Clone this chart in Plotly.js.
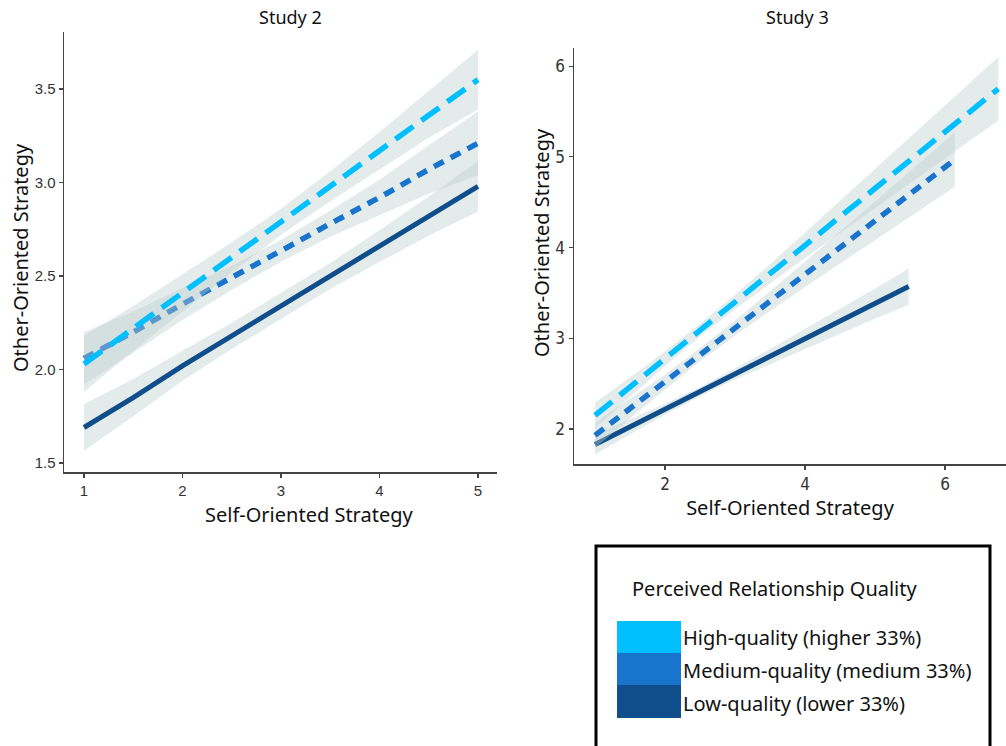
<!DOCTYPE html>
<html>
<head>
<meta charset="utf-8">
<script src="https://cdn.plot.ly/plotly-3.0.1.min.js"></script>
<style>
  html, body { margin: 0; padding: 0; background: #ffffff; }
  #chart { width: 1006px; height: 746px; }
</style>
</head>
<body>
<div id="chart"></div>
<script>
// ---------------- Data: Study 2 ----------------
const s2X = [1, 1.5, 2, 2.5, 3, 3.5, 4, 4.5, 5];
const s2HighMean = [2.03, 2.22, 2.41, 2.60, 2.79, 2.98, 3.17, 3.36, 3.55];
const s2HighUpper = [2.18, 2.34, 2.51, 2.68, 2.86, 3.06, 3.27, 3.49, 3.71];
const s2HighLower = [1.88, 2.10, 2.31, 2.52, 2.72, 2.90, 3.07, 3.24, 3.39];
const s2MedMean = [2.06, 2.20, 2.35, 2.49, 2.635, 2.78, 2.92, 3.07, 3.21];
const s2MedUpper = [2.20, 2.31, 2.435, 2.555, 2.693, 2.85, 3.015, 3.20, 3.38];
const s2MedLower = [1.92, 2.09, 2.265, 2.425, 2.577, 2.71, 2.825, 2.94, 3.04];
const s2LowMean = [1.69, 1.85, 2.02, 2.18, 2.34, 2.50, 2.66, 2.82, 2.98];
const s2LowUpper = [1.815, 1.95, 2.10, 2.25, 2.41, 2.57, 2.745, 2.925, 3.115];
const s2LowLower = [1.565, 1.75, 1.94, 2.11, 2.27, 2.43, 2.575, 2.715, 2.845];

// ---------------- Data: Study 3 ----------------
const s3HighX = [1, 1.5, 2, 2.5, 3, 3.5, 4, 4.5, 5, 5.5, 6, 6.5, 6.76];
const s3HighMean = [2.15, 2.46, 2.775, 3.09, 3.40, 3.71, 4.025, 4.34, 4.65, 4.96, 5.275, 5.59, 5.75];
const s3HighUpper = [2.29, 2.567, 2.856, 3.161, 3.481, 3.817, 4.165, 4.516, 4.864, 5.212, 5.566, 5.92, 6.10];
const s3HighLower = [2.01, 2.353, 2.694, 3.019, 3.319, 3.603, 3.885, 4.164, 4.436, 4.708, 4.984, 5.26, 5.40];
const s3MedX = [1, 1.5, 2, 2.5, 3, 3.5, 4, 4.5, 5, 5.5, 6, 6.14];
const s3MedMean = [1.93, 2.226, 2.52, 2.82, 3.113, 3.41, 3.704, 4.0, 4.296, 4.59, 4.887, 4.97];
const s3MedUpper = [2.07, 2.334, 2.602, 2.892, 3.195, 3.518, 3.844, 4.175, 4.508, 4.84, 5.174, 5.27];
const s3MedLower = [1.79, 2.118, 2.438, 2.748, 3.031, 3.302, 3.564, 3.825, 4.084, 4.34, 4.60, 4.67];
const s3LowX = [1, 1.5, 2, 2.5, 3, 3.5, 4, 4.5, 5, 5.48];
const s3LowMean = [1.83, 2.024, 2.218, 2.412, 2.606, 2.80, 2.994, 3.188, 3.382, 3.57];
const s3LowUpper = [1.94, 2.107, 2.279, 2.463, 2.667, 2.883, 3.104, 3.327, 3.55, 3.77];
const s3LowLower = [1.72, 1.941, 2.157, 2.361, 2.545, 2.717, 2.884, 3.049, 3.214, 3.37];

// ---------------- Labels ----------------
const panelTitles = ["Study 2", "Study 3"];
const xTitle = "Self-Oriented Strategy";
const yTitle = "Other-Oriented Strategy";
const legendTitle = "Perceived Relationship Quality";
const groupLabels = ["High-quality (higher 33%)", "Medium-quality (medium 33%)", "Low-quality (lower 33%)"];
const s2XTicks = [1, 2, 3, 4, 5];
const s2YTicks = [1.5, 2.0, 2.5, 3.0, 3.5];
const s2YTickText = ["1.5", "2.0", "2.5", "3.0", "3.5"];
const s3XTicks = [2, 4, 6];
const s3YTicks = [2, 3, 4, 5, 6];

// ---------------- Styles ----------------
const colHigh = "#00BFFF";
const colMed = "#1874CD";
const colLow = "#104E8B";
const bandFill = "rgba(188,205,205,0.4)";
const axisCol = "#444444";
const textFam = "'Noto Sans', 'Open Sans', sans-serif";

function band(x, lo, hi, xa, ya) {
  return {
    x: x.concat(x.slice().reverse()),
    y: hi.concat(lo.slice().reverse()),
    xaxis: xa, yaxis: ya,
    type: "scatter", mode: "lines",
    fill: "toself", fillcolor: bandFill,
    line: { width: 0, color: "rgba(0,0,0,0)" },
    hoverinfo: "skip", showlegend: false
  };
}
function line(x, y, color, dash, w, xa, ya) {
  return {
    x: x, y: y, xaxis: xa, yaxis: ya,
    type: "scatter", mode: "lines",
    line: { color: color, width: w, dash: dash },
    showlegend: false
  };
}

const dashHigh = "22px,10px";
const dashMed = "11px,8px";

const traces = [
  band(s2X, s2LowLower, s2LowUpper, "x", "y"),
  line(s2X, s2LowMean, colLow, "solid", 5, "x", "y"),
  band(s2X, s2MedLower, s2MedUpper, "x", "y"),
  line(s2X, s2MedMean, colMed, dashMed, 5.5, "x", "y"),
  band(s2X, s2HighLower, s2HighUpper, "x", "y"),
  line(s2X, s2HighMean, colHigh, dashHigh, 5.5, "x", "y"),

  band(s3LowX, s3LowLower, s3LowUpper, "x2", "y2"),
  line(s3LowX, s3LowMean, colLow, "solid", 5, "x2", "y2"),
  band(s3MedX, s3MedLower, s3MedUpper, "x2", "y2"),
  line(s3MedX, s3MedMean, colMed, dashMed, 5.5, "x2", "y2"),
  band(s3HighX, s3HighLower, s3HighUpper, "x2", "y2"),
  line(s3HighX, s3HighMean, colHigh, dashHigh, 5.5, "x2", "y2")
];

const W = 1006, H = 746;
const px = v => v / W;
const py = v => 1 - v / H;

const titleFont = { family: textFam, size: 20, color: "#111111" };
const tickFontL = { family: "'Liberation Sans', Arial, sans-serif", size: 15, color: "#333333" };
const tickFontR = { family: "'Liberation Sans Narrow', 'DejaVu Sans Condensed', sans-serif", size: 17, color: "#333333" };

const axisCommon = {
  showgrid: false, zeroline: false, showline: true,
  linecolor: axisCol, linewidth: 1.5,
  ticks: "outside", ticklen: 4, tickwidth: 1.2, tickcolor: axisCol,
  tickmode: "array", automargin: false, fixedrange: true
};

function ann(text, x, y, font, opts) {
  return Object.assign({ text: text, xref: "paper", yref: "paper", x: px(x), y: py(y),
    xanchor: "center", yanchor: "middle", showarrow: false, font: font }, opts || {});
}

const legendFont = { family: textFam, size: 20, color: "#111111" };

const layout = {
  width: W, height: H,
  margin: { l: 0, r: 0, t: 0, b: 0 },
  paper_bgcolor: "#ffffff", plot_bgcolor: "#ffffff",
  showlegend: false,
  xaxis: Object.assign({}, axisCommon, {
    domain: [px(64), px(497)], range: [0.797, 5.193],
    tickvals: s2XTicks, ticktext: s2XTicks.map(String), tickfont: tickFontL,
    anchor: "y"
  }),
  yaxis: Object.assign({}, axisCommon, {
    domain: [py(472), py(32)], range: [1.452, 3.805],
    tickvals: s2YTicks, ticktext: s2YTickText, tickfont: tickFontL,
    anchor: "x"
  }),
  xaxis2: Object.assign({}, axisCommon, {
    domain: [px(574), 1], range: [0.7, 6.87],
    tickvals: s3XTicks, ticktext: s3XTicks.map(String), tickfont: tickFontR,
    anchor: "y2",
    title: { text: xTitle, font: titleFont, standoff: 3 }
  }),
  yaxis2: Object.assign({}, axisCommon, {
    domain: [py(464), py(48)], range: [1.614, 6.2],
    tickvals: s3YTicks, ticktext: s3YTicks.map(String), tickfont: tickFontR,
    anchor: "x2"
  }),
  annotations: [
    ann(panelTitles[0], 290, 17, { family: textFam, size: 18, color: "#111111" }),
    ann(panelTitles[1], 797, 17, { family: textFam, size: 18, color: "#111111" }),
    // axis titles placed where the original has them
    ann(xTitle, 309, 514, titleFont),
    ann(yTitle, 20, 258, titleFont, { textangle: -90 }),
    ann(yTitle, 541, 243, titleFont, { textangle: -90 }),
    // legend
    ann(legendTitle, 630, 588, legendFont, { xanchor: "left" }),
    ann(groupLabels[0], 681, 637, legendFont, { xanchor: "left" }),
    ann(groupLabels[1], 681, 670, legendFont, { xanchor: "left" }),
    ann(groupLabels[2], 681, 703, legendFont, { xanchor: "left" })
  ],
  shapes: [
    { type: "rect", xref: "paper", yref: "paper", x0: px(596), x1: px(990), y0: -0.05, y1: py(546),
      line: { color: "#000000", width: 3 }, fillcolor: "rgba(0,0,0,0)" },
    { type: "rect", xref: "paper", yref: "paper", x0: px(617), x1: px(681), y0: py(653), y1: py(621),
      line: { width: 0 }, fillcolor: colHigh },
    { type: "rect", xref: "paper", yref: "paper", x0: px(617), x1: px(681), y0: py(685), y1: py(653),
      line: { width: 0 }, fillcolor: colMed },
    { type: "rect", xref: "paper", yref: "paper", x0: px(617), x1: px(681), y0: py(718), y1: py(685),
      line: { width: 0 }, fillcolor: colLow }
  ]
};

Plotly.newPlot("chart", traces, layout, { staticPlot: true, displayModeBar: false });
</script>
</body>
</html>
